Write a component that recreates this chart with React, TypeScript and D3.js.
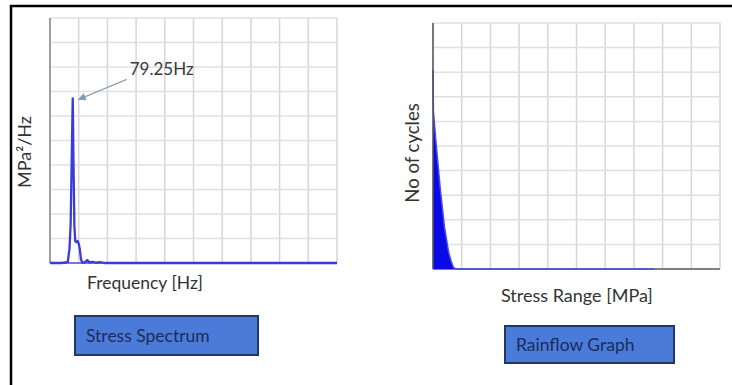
import * as d3 from 'd3'

// stress spectrum (PSD), frequency in Hz vs MPa²/Hz (arbitrary units)
const spectrumFreq = [0, 40, 55, 62, 68, 72, 76, 79.25, 82, 85, 88, 92, 96, 100, 104, 108, 112, 120, 130, 136, 150, 160, 175, 190, 1000]
const spectrumPsd = [0, 0, 0.02, 0.05, 0.6, 1.6, 4.5, 6.72, 4.0, 1.5, 0.9, 0.85, 0.9, 0.8, 0.55, 0.15, 0.03, 0.02, 0.12, 0.03, 0.05, 0.01, 0.04, 0, 0]
const peakLabel = '79.25Hz'
const peakFreq = 79.25

// rainflow counts, stress range in MPa vs number of cycles (arbitrary units)
const rainflowRange = [0, 0.15, 1, 2.5, 4, 5.5, 6.5, 7.2, 8, 77]
const rainflowCycles = [8.1, 6.4, 5.2, 3.3, 1.7, 0.65, 0.25, 0.05, 0, 0]

const gridTicks = d3.range(0, 11)

const W = 732
const H = 385
const font = 'Lato, "Open Sans", sans-serif'

function Grid({ x, y }: { x: d3.ScaleLinear<number, number>; y: d3.ScaleLinear<number, number> }) {
  const xs = gridTicks.map((t) => x.invert(x.range()[0] + ((x.range()[1] - x.range()[0]) * t) / 10))
  const ys = gridTicks.map((t) => y.invert(y.range()[0] + ((y.range()[1] - y.range()[0]) * t) / 10))
  return (
    <g>
      {xs.map((v, i) => (
        <line key={'v' + i} x1={x(v)} x2={x(v)} y1={y.range()[0]} y2={y.range()[1]} stroke="#d6d6d6" strokeWidth={1.5} />
      ))}
      {ys.map((v, i) => (
        <line key={'h' + i} x1={x.range()[0]} x2={x.range()[1]} y1={y(v)} y2={y(v)} stroke="#e0e0e0" strokeWidth={1.5} />
      ))}
    </g>
  )
}

function Box({ x, y, w, h, label }: { x: number; y: number; w: number; h: number; label: string }) {
  return (
    <g>
      <rect x={x} y={y} width={w} height={h} fill="#4a7bd9" stroke="#203864" strokeWidth={2} />
      <text x={x + 11} y={y + h / 2} dy="0.35em" fontFamily={font} fontSize={17.5} fill="#1c2c5c">
        {label}
      </text>
    </g>
  )
}

export default function App() {
  // left: stress spectrum
  const x1 = d3.scaleLinear().domain([0, 1000]).range([50, 337])
  const y1 = d3.scaleLinear().domain([0, 10]).range([263, 18])
  const specLine = d3
    .line<number>()
    .x((_, i) => x1(spectrumFreq[i]))
    .y((d) => y1(d))
  const peakIdx = spectrumFreq.indexOf(peakFreq)
  const px = x1(peakFreq)
  const py = y1(spectrumPsd[peakIdx])

  // right: rainflow
  const x2 = d3.scaleLinear().domain([0, 100]).range([433, 720])
  const y2 = d3.scaleLinear().domain([0, 10]).range([269, 23])
  const rainArea = d3
    .area<number>()
    .x((_, i) => x2(rainflowRange[i]))
    .y0(y2(0))
    .y1((d) => y2(d))
  const rainLine = d3
    .line<number>()
    .x((_, i) => x2(rainflowRange[i]))
    .y((d) => y2(d))

  return (
    <svg width={W} height={H} style={{ position: 'fixed', left: 0, top: 0, background: '#fff' }}>
      <defs>
        <marker id="arr" viewBox="0 0 10 10" refX={9} refY={5} markerWidth={6} markerHeight={6} orient="auto">
          <path d="M0,0 L10,5 L0,10 z" fill="#7f9cb4" />
        </marker>
      </defs>
      <rect width={W} height={H} fill="#fff" />

      {/* frame */}
      <path d={`M11,${H} L11,6 L${W},6`} fill="none" stroke="#000" strokeWidth={2.5} />

      {/* stress spectrum */}
      <Grid x={x1} y={y1} />
      <line x1={x1(0)} x2={x1(0)} y1={y1(10)} y2={y1(0)} stroke="#888" strokeWidth={1.5} />
      <line x1={x1(0)} x2={x1(1000)} y1={y1(0)} y2={y1(0)} stroke="#7777cc" strokeWidth={2} />
      <path d={specLine(spectrumPsd) ?? ''} fill="none" stroke="#3b3bdc" strokeWidth={2.3} strokeLinejoin="round" />
      <line x1={px + 54} y1={py - 19} x2={px + 6} y2={py + 1} stroke="#8fa3b3" strokeWidth={1.3} markerEnd="url(#arr)" />
      <text x={px + 57} y={py - 23} fontFamily={font} fontSize={17} fill="#3a3a3a">
        {peakLabel}
      </text>
      <text transform="translate(25,152) rotate(-90)" textAnchor="middle" dy="0.35em" fontFamily={font} fontSize={18} fill="#333">
        MPa²/Hz
      </text>
      <text x={87} y={283} dy="0.35em" fontFamily={font} fontSize={17.5} fill="#333">
        Frequency [Hz]
      </text>
      <Box x={75} y={316} w={183} h={39} label="Stress Spectrum" />

      {/* rainflow */}
      <Grid x={x2} y={y2} />
      <line x1={x2(0)} x2={x2(100)} y1={y2(0)} y2={y2(0)} stroke="#808080" strokeWidth={2} />
      <path d={rainArea(rainflowCycles) ?? ''} fill="#0a0ae6" />
      <path d={rainLine(rainflowCycles) ?? ''} fill="none" stroke="#4a4ae8" strokeWidth={1.5} />
      <line x1={x2(0)} x2={x2(0)} y1={y2(10)} y2={y2(0)} stroke="#555" strokeWidth={1.5} />
      <text transform="translate(413,153) rotate(-90)" textAnchor="middle" dy="0.35em" fontFamily={font} fontSize={18.5} fill="#333">
        No of cycles
      </text>
      <text x={501} y={296} dy="0.35em" fontFamily={font} fontSize={18} fill="#333">
        Stress Range [MPa]
      </text>
      <Box x={505} y={326} w={169} h={37} label="Rainflow Graph" />
    </svg>
  )
}
